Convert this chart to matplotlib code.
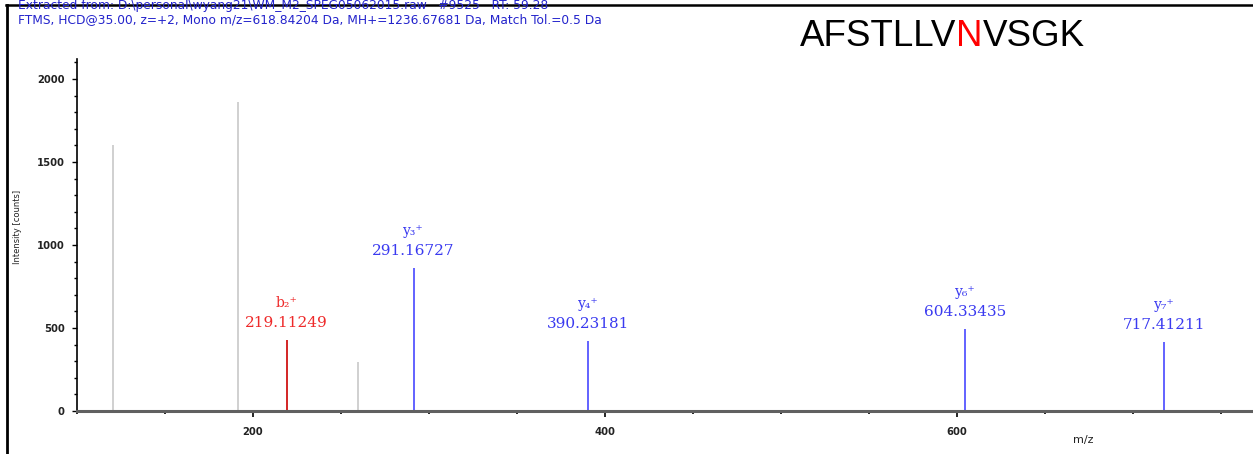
import matplotlib
matplotlib.use('Agg')
import matplotlib.pyplot as plt
from matplotlib.lines import Line2D
from matplotlib.ticker import MultipleLocator

# peaks (m/z, intensity), ion type and label
mz = [120.5, 191.2, 219.11249, 259.7, 291.16727, 390.23181, 604.33435, 717.41211]
intensity = [1600, 1862, 428, 298, 861, 423, 494, 417]
ion_type = ['none', 'none', 'b', 'none', 'y', 'y', 'y', 'y']
ion_label = ['', '', 'b₂⁺', '', 'y₃⁺', 'y₄⁺', 'y₆⁺', 'y₇⁺']

header1 = r'Extracted from: D:\personal\wyang21\WM_M2_SPEG05062015.raw   #9525   RT: 59.28'
header2 = 'FTMS, HCD@35.00, z=+2, Mono m/z=618.84204 Da, MH+=1236.67681 Da, Match Tol.=0.5 Da'
peptide = ['AFSTLLV', 'N', 'VSGK']
peptide_col = ['black', '#ff0000', 'black']

line_col = {'none': '#c8c8c8', 'b': '#cc0000', 'y': '#4848ff'}
text_col = {'b': '#ee2a2a', 'y': '#3a3af0'}

W, H = 1253, 454
fig = plt.figure(figsize=(W / 100, H / 100), dpi=100)
ax = fig.add_axes([77 / W, (H - 411) / H, (W - 77) / W, (411 - 59) / H])

for m, v, t in zip(mz, intensity, ion_type):
    ax.vlines(m, 0, v, colors=line_col[t], linewidth=1.2)

serif = ['DejaVu Serif', 'DejaVu Sans']
for m, v, t, lab in zip(mz, intensity, ion_type, ion_label):
    if t == 'none':
        continue
    ax.annotate('%.5f' % m, (m, v), xytext=(0, 9.5), textcoords='offset points',
                ha='center', va='baseline', fontsize=11, color=text_col[t], family=serif)
    ax.annotate(lab, (m, v), xytext=(0, 23.5), textcoords='offset points',
                ha='center', va='baseline', fontsize=10, color=text_col[t], family=serif)

ax.set_xlim(100, 768)
ax.set_ylim(0, 2120)
ax.xaxis.set_major_locator(MultipleLocator(200))
ax.xaxis.set_minor_locator(MultipleLocator(50))
ax.yaxis.set_major_locator(MultipleLocator(500))
ax.yaxis.set_minor_locator(MultipleLocator(100))

for s in ['top', 'right']:
    ax.spines[s].set_visible(False)
ax.spines['bottom'].set_color('#606060')
ax.spines['bottom'].set_linewidth(2.2)
ax.spines['left'].set_color('black')
ax.spines['left'].set_linewidth(1.2)

ax.tick_params(axis='x', which='major', length=4.5, width=1.2, pad=7, labelsize=7.2, labelcolor='#222222')
ax.tick_params(axis='x', which='minor', length=1.8, width=1.2)
ax.tick_params(axis='y', which='major', length=3.8, width=1.0, pad=5, labelsize=7.2, labelcolor='#222222')
ax.tick_params(axis='y', which='minor', length=2.2, width=1.0)
for lbl in ax.get_xticklabels() + ax.get_yticklabels():
    lbl.set_fontweight('bold')

fig.text(1083 / W, (H - 440) / H, 'm/z', ha='center', va='center', fontsize=8, color='#222222')
fig.text(18 / W, (H - 227) / H, 'Intensity [counts]', rotation=90, ha='center', va='center',
         fontsize=6, color='#222222')

# header lines (first one is cut off at the top, as in the screenshot)
fig.text(18 / W, (H - 9.5) / H, header1, ha='left', va='baseline', fontsize=8.8, color='#2424cc')
fig.text(18 / W, (H - 23.5) / H, header2, ha='left', va='baseline', fontsize=8.8, color='#2424cc')

# peptide sequence with the modified residue in red
prev = fig.text(800 / W, (H - 46) / H, peptide[0], ha='left', va='baseline',
                fontsize=26.5, color=peptide_col[0], family='Liberation Sans')
for seg, c in zip(peptide[1:], peptide_col[1:]):
    prev = ax.annotate(seg, xy=(1, 0), xycoords=prev, ha='left', va='bottom',
                       fontsize=26.5, color=c, family='Liberation Sans', annotation_clip=False)

# frame lines of the screenshot
fig.add_artist(Line2D([6 / W, 1], [(H - 5) / H] * 2, color='black', linewidth=1.8,
                      transform=fig.transFigure))
fig.add_artist(Line2D([7 / W] * 2, [0, (H - 5) / H], color='black', linewidth=2.0,
                      transform=fig.transFigure))

fig.savefig('out.png', dpi=100)
